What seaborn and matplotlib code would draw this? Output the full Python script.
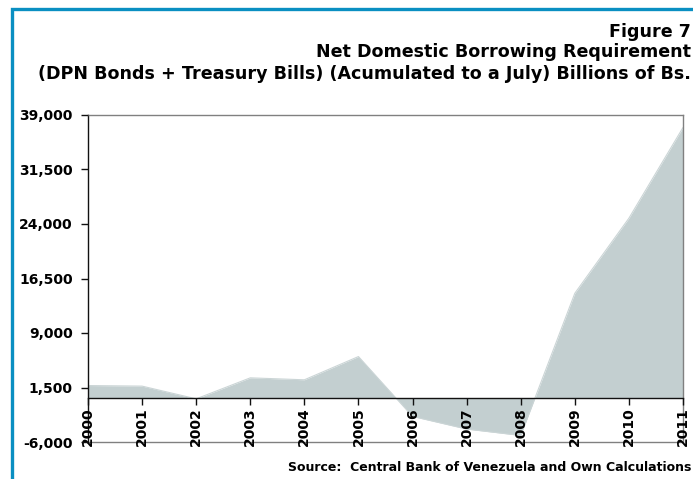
import matplotlib
matplotlib.use("Agg")
import matplotlib.pyplot as plt
from matplotlib.ticker import FuncFormatter, FixedLocator
from matplotlib.patches import Rectangle
import seaborn as sns
import pandas as pd

# Net domestic borrowing requirement, accumulated to July (billions of Bs.)
years = [2000, 2001, 2002, 2003, 2004, 2005, 2006, 2007, 2008, 2009, 2010, 2011]
borrowing = [1770, 1690, -60, 2830, 2560, 5760, -2480, -4220, -5100, 14470, 24800, 37280]
y_ticks = [-6000, 1500, 9000, 16500, 24000, 31500, 39000]

title_lines = [
    "Figure 7",
    "Net Domestic Borrowing Requirement",
    "(DPN Bonds + Treasury Bills) (Acumulated to a July) Billions of Bs.",
]
source_note = "Source:  Central Bank of Venezuela and Own Calculations"

df = pd.DataFrame({"year": years, "value": borrowing})

sns.set_theme(style="white")
plt.rcParams["font.family"] = ["DejaVu Sans"]
plt.rcParams["font.weight"] = "bold"

fill_color = "#C3CFD0"
frame_blue = "#0A8FC2"

fig = plt.figure(figsize=(6.93, 4.79), dpi=100)
ax = fig.add_axes([88 / 693, 1 - 442 / 479, (683 - 88) / 693, (442 - 115) / 479])
ax.set_axisbelow(False)

ax.fill_between(df["year"], df["value"], 0, color=fill_color, linewidth=0, zorder=1)
sns.lineplot(data=df, x="year", y="value", ax=ax, color="#CBD5D6", linewidth=0.8, zorder=1.1)

ax.set_xlim(2000, 2011)
ax.set_ylim(-6000, 39000)
ax.set_xlabel("")
ax.set_ylabel("")

ax.xaxis.set_major_locator(FixedLocator(years))
ax.xaxis.set_major_formatter(FuncFormatter(lambda v, _: f"{int(round(v))}"))
ax.yaxis.set_major_locator(FixedLocator(y_ticks))
ax.yaxis.set_major_formatter(FuncFormatter(lambda v, _: f"{v:,.0f}"))

# Category axis sits on the zero line; the plot frame is grey
ax.spines["bottom"].set_position(("data", 0))
ax.spines["bottom"].set_color("#111111")
ax.spines["bottom"].set_linewidth(1.0)
ax.spines["left"].set_color("#111111")
ax.spines["left"].set_linewidth(1.0)
for side in ("top", "right"):
    ax.spines[side].set_visible(True)
    ax.spines[side].set_color("#808080")
    ax.spines[side].set_linewidth(1.0)
ax.axhline(-6000, color="#808080", linewidth=1.0, clip_on=False, zorder=2.4)

ax.tick_params(axis="x", direction="out", length=5, width=1, color="#111111",
               labelsize=10, pad=1.5, bottom=True, labelrotation=90)
ax.tick_params(axis="y", direction="out", length=5, width=1, color="#111111",
               labelsize=10, pad=6, left=True)
for lbl in ax.get_xticklabels():
    lbl.set_verticalalignment("top")
for lbl in ax.get_xticklabels() + ax.get_yticklabels():
    lbl.set_fontweight("bold")
    lbl.set_color("black")

# Titles, right aligned
title_baselines = [37, 57, 79]
for text, ypix in zip(title_lines, title_baselines):
    fig.text(691 / 693, 1 - ypix / 479, text, ha="right", va="baseline",
             fontsize=12.6, fontweight="bold", color="black")

fig.text(691 / 693, 1 - 471 / 479, source_note, ha="right", va="baseline",
         fontsize=9.0, fontweight="bold", color="black")

# Blue panel frame running off the right and bottom edges
fig.add_artist(Rectangle((11.5 / 693, -0.2), 1.3, 1.2 - 8.5 / 479,
                         transform=fig.transFigure, fill=False,
                         edgecolor=frame_blue, linewidth=2.4, clip_on=False))

fig.savefig("out.png", dpi=100)
